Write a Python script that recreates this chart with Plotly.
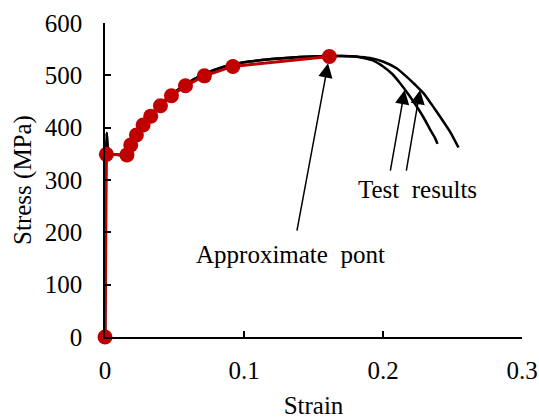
import plotly.graph_objects as go

# Approximate (model) points
approx_strain = [0.0, 0.001, 0.0158, 0.0185, 0.0226, 0.0274, 0.0329, 0.0399, 0.0478, 0.0579, 0.0715, 0.092, 0.1614]
approx_stress = [0, 349, 348, 367, 386, 405, 422, 442, 461, 480, 499, 517, 536]

# Test result curve 1 (inner)
test1_strain = [0.0, 0.0005, 0.0012, 0.002, 0.004, 0.010, 0.016, 0.019, 0.023, 0.028, 0.034, 0.040, 0.048,
                0.058, 0.070, 0.085, 0.100, 0.120, 0.140, 0.160, 0.170, 0.180, 0.186, 0.193, 0.2003,
                0.2065, 0.2123, 0.2185, 0.2244, 0.2295, 0.234, 0.2373, 0.2392]
test1_stress = [0, 300, 390, 362, 351, 348, 349, 364, 386, 406, 426, 444, 463,
                483, 501, 516, 525, 531, 535, 537, 537, 536, 533, 528, 516.5,
                503, 485, 463, 440, 418, 396, 381, 369]

# Test result curve 2 (outer)
test2_strain = [0.0, 0.0005, 0.0012, 0.002, 0.004, 0.010, 0.016, 0.019, 0.023, 0.028, 0.034, 0.040, 0.048,
                0.058, 0.070, 0.085, 0.100, 0.120, 0.140, 0.160, 0.170, 0.180, 0.1907, 0.2003,
                0.210, 0.2171, 0.2231, 0.2291, 0.2351, 0.2411, 0.2483, 0.2543]
test2_stress = [0, 300, 390, 362, 351, 348, 349, 364, 386, 406, 426, 444, 463,
                483, 501, 516, 525, 531, 535, 537, 537, 536, 533, 526,
                513, 497, 482, 466, 444, 421, 392, 362]

x_ticks = [0, 0.1, 0.2, 0.3]
x_tick_text = ["0", "0.1", "0.2", "0.3"]
y_ticks = [0, 100, 200, 300, 400, 500, 600]
y_tick_text = ["0", "100", "200", "300", "400", "500", "600"]

FONT = "Liberation Serif"
RED = "#C00000"

fig = go.Figure()
fig.add_trace(go.Scatter(x=test1_strain, y=test1_stress, mode="lines",
                         line=dict(color="black", width=2.5, shape="spline", smoothing=0.6),
                         cliponaxis=False, showlegend=False))
fig.add_trace(go.Scatter(x=test2_strain, y=test2_stress, mode="lines",
                         line=dict(color="black", width=2.5, shape="spline", smoothing=0.6),
                         cliponaxis=False, showlegend=False))
fig.add_trace(go.Scatter(x=approx_strain, y=approx_stress, mode="lines+markers",
                         line=dict(color=RED, width=3),
                         marker=dict(color=RED, size=15),
                         cliponaxis=False, showlegend=False))

arrow_common = dict(showarrow=True, arrowhead=2, arrowsize=1.9, arrowwidth=1.5,
                    arrowcolor="black", axref="x", ayref="y", xref="x", yref="y", text="")

fig.add_annotation(x=approx_strain[-1], y=approx_stress[-1], ax=0.1379, ay=200.6,
                   standoff=7, **arrow_common)
fig.add_annotation(x=0.2156, y=472, ax=0.2051, ay=315, **arrow_common)
fig.add_annotation(x=0.2267, y=472, ax=0.2166, ay=315, **arrow_common)

fig.add_annotation(x=0.225, y=281, text="Test  results", showarrow=False,
                   xref="x", yref="y", font=dict(family=FONT, size=25, color="black"))
fig.add_annotation(x=0.1332, y=158.6, text="Approximate  pont", showarrow=False,
                   xref="x", yref="y", font=dict(family=FONT, size=25, color="black"))

fig.update_xaxes(range=[0, 0.3], tickvals=x_ticks, ticktext=x_tick_text,
                 showline=True, linecolor="black", linewidth=1.5,
                 ticks="inside", ticklen=6, tickwidth=1.5, tickcolor="black",
                 showgrid=False, zeroline=False, ticklabelstandoff=10, automargin=False,
                 title=dict(text="Strain", standoff=14,
                            font=dict(family=FONT, size=25, color="black")),
                 tickfont=dict(family=FONT, size=25, color="black"))
fig.update_yaxes(range=[0, 600], tickvals=y_ticks, ticktext=y_tick_text,
                 showline=True, linecolor="black", linewidth=1.5,
                 ticks="inside", ticklen=6, tickwidth=1.5, tickcolor="black",
                 showgrid=False, zeroline=False, ticklabelstandoff=16, automargin=False,
                 title=dict(text="Stress (MPa)", standoff=6,
                            font=dict(family=FONT, size=25, color="black")),
                 tickfont=dict(family=FONT, size=25, color="black"))

fig.update_layout(width=539, height=419, margin=dict(l=105, r=17, t=23, b=82),
                  plot_bgcolor="white", paper_bgcolor="white",
                  font=dict(family=FONT, size=25, color="black"))

fig.write_html("out.html")
